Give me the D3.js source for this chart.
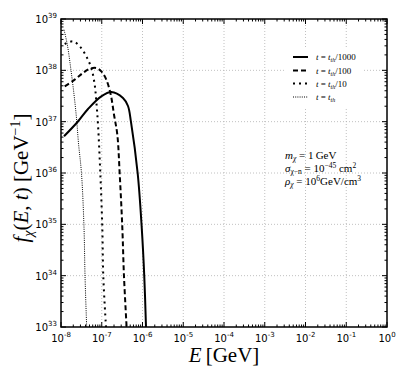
<!DOCTYPE html>
<html lang="en">
<head>
<meta charset="UTF-8">
<script src="https://cdn.jsdelivr.net/npm/d3@7"></script>
<style>
    body { margin: 0; background: #fff; }
    svg { display: block; }
    .tick-label { font-family: "DejaVu Sans", sans-serif; font-size: 10px; fill: #000; }
    .math { font-family: "Liberation Serif", serif; fill: #000; }
</style>
</head>
<body>
<svg width="407" height="386"></svg>
<script>
    const LEFT = 61, RIGHT = 387, TOP = 19, BOTTOM = 327;

    // curves, as log10(E / GeV) and log10(f / GeV^-1)
    const solidLogE = [-7.926, -7.595, -7.337, -7.011, -6.766, -6.479, -6.356, -6.282, -6.118, -6.02, -5.956, -5.914];
    const solidLogF = [36.715, 36.993, 37.247, 37.494, 37.578, 37.461, 37.305, 36.99, 35.99, 34.95, 33.98, 33.0];

    const dashLogE = [-7.909, -7.664, -7.46, -7.296, -7.134, -7.011, -6.888, -6.78, -6.70, -6.618, -6.56, -6.496, -6.454, -6.39];
    const dashLogF = [37.689, 37.818, 37.95, 38.03, 38.045, 37.98, 37.818, 37.53, 37.14, 36.746, 35.99, 34.95, 33.98, 33.0];

    const dotLogE = [-7.909, -7.705, -7.54, -7.379, -7.256, -7.173, -7.134, -7.092, -7.035, -6.987, -6.962, -6.896];
    const dotLogF = [38.513, 38.565, 38.468, 38.273, 38.045, 37.72, 37.397, 36.94, 35.99, 34.95, 33.98, 33.0];

    const fineLogE = [-7.926, -7.845, -7.762, -7.68, -7.62, -7.571, -7.497, -7.436, -7.41, -7.37];
    const fineLogF = [38.79, 38.50, 38.045, 37.525, 37.07, 36.584, 35.99, 34.95, 33.98, 33.0];

    const xDecades = [-8, -7, -6, -5, -4, -3, -2, -1, 0];
    const yDecades = [33, 34, 35, 36, 37, 38, 39];

    const legendLabels = ["1000", "100", "10", ""];

    const svg = d3.select("svg");

    const x = d3.scaleLog().domain([1e-8, 1]).range([LEFT, RIGHT]);
    const y = d3.scaleLog().domain([1e33, 1e39]).range([BOTTOM, TOP]);

    // grid
    const grid = svg.append("g").attr("stroke", "#b0b0b0").attr("stroke-width", 0.8).attr("stroke-dasharray", "1,2");
    xDecades.slice(1, -1).forEach(p => {
        grid.append("line").attr("x1", x(Math.pow(10, p))).attr("x2", x(Math.pow(10, p)))
            .attr("y1", TOP).attr("y2", BOTTOM);
    });
    yDecades.slice(1, -1).forEach(p => {
        grid.append("line").attr("y1", y(Math.pow(10, p))).attr("y2", y(Math.pow(10, p)))
            .attr("x1", LEFT).attr("x2", RIGHT);
    });

    // curves
    const series = [
        {e: solidLogE, f: solidLogF, dash: null, width: 2},
        {e: dashLogE, f: dashLogF, dash: "5,3", width: 2},
        {e: dotLogE, f: dotLogF, dash: "2,4", width: 2},
        {e: fineLogE, f: fineLogF, dash: "1,1.2", width: 1}
    ];

    const line = d3.line()
        .x(d => x(Math.pow(10, d[0])))
        .y(d => y(Math.pow(10, d[1])))
        .curve(d3.curveCatmullRom.alpha(0.5));

    svg.append("clipPath").attr("id", "plot-clip")
        .append("rect").attr("x", LEFT).attr("y", TOP)
        .attr("width", RIGHT - LEFT).attr("height", BOTTOM - TOP);

    series.forEach(s => {
        svg.append("path")
            .attr("clip-path", "url(#plot-clip)")
            .attr("d", line(s.e.map((v, i) => [v, s.f[i]])))
            .attr("fill", "none")
            .attr("stroke", "#000")
            .attr("stroke-width", s.width)
            .attr("stroke-dasharray", s.dash);
    });

    // ticks (inward, all four sides)
    function drawTicks(scale, decades, orient) {
        const major = decades.map(p => Math.pow(10, p));
        const minor = scale.ticks().filter(v => !major.some(m => Math.abs(m - v) / m < 1e-6));
        const g = svg.append("g").attr("stroke", "#000").attr("stroke-width", 1);
        const put = (v, len) => {
            const p = scale(v);
            if (orient === "bottom") g.append("line").attr("x1", p).attr("x2", p).attr("y1", BOTTOM).attr("y2", BOTTOM - len);
            if (orient === "top") g.append("line").attr("x1", p).attr("x2", p).attr("y1", TOP).attr("y2", TOP + len);
            if (orient === "left") g.append("line").attr("y1", p).attr("y2", p).attr("x1", LEFT).attr("x2", LEFT + len);
            if (orient === "right") g.append("line").attr("y1", p).attr("y2", p).attr("x1", RIGHT).attr("x2", RIGHT - len);
        };
        major.forEach(v => put(v, 5));
        minor.forEach(v => put(v, 2.5));
    }
    drawTicks(x, xDecades, "bottom");
    drawTicks(x, xDecades, "top");
    drawTicks(y, yDecades, "left");
    drawTicks(y, yDecades, "right");

    // frame
    svg.append("rect").attr("x", LEFT).attr("y", TOP)
        .attr("width", RIGHT - LEFT).attr("height", BOTTOM - TOP)
        .attr("fill", "none").attr("stroke", "#000").attr("stroke-width", 1.5);

    // tick labels
    xDecades.forEach(p => {
        const t = svg.append("text").attr("class", "tick-label")
            .attr("x", x(Math.pow(10, p))).attr("y", 342).attr("text-anchor", "middle");
        t.append("tspan").text("10");
        t.append("tspan").attr("dy", -5).attr("font-size", "7px").text(String(p));
    });
    yDecades.forEach(p => {
        const t = svg.append("text").attr("class", "tick-label")
            .attr("x", 57).attr("y", y(Math.pow(10, p)) + 4).attr("text-anchor", "end");
        t.append("tspan").text("10");
        t.append("tspan").attr("dy", -5).attr("font-size", "7px").text(String(p));
    });

    // axis labels
    const xl = svg.append("text").attr("class", "math").attr("font-size", "21px")
        .attr("x", (LEFT + RIGHT) / 2).attr("y", 362).attr("text-anchor", "middle");
    xl.append("tspan").attr("font-style", "italic").text("E");
    xl.append("tspan").text("\u2009[GeV]");

    const yl = svg.append("text").attr("class", "math").attr("font-size", "21px")
        .attr("transform", `translate(28, ${(TOP + BOTTOM) / 2 + 5}) rotate(-90)`)
        .attr("text-anchor", "middle");
    yl.append("tspan").attr("font-style", "italic").text("f");
    yl.append("tspan").attr("font-style", "italic").attr("font-size", "14px").attr("dy", 5).text("\u03c7");
    yl.append("tspan").attr("dy", -5).text("(");
    yl.append("tspan").attr("font-style", "italic").text("E");
    yl.append("tspan").text(", ");
    yl.append("tspan").attr("font-style", "italic").text("t");
    yl.append("tspan").text(") [GeV");
    yl.append("tspan").attr("font-size", "14px").attr("dy", -8).text("\u22121");
    yl.append("tspan").attr("dy", 8).text("]");

    // legend
    svg.append("rect").attr("x", 285).attr("y", 47).attr("width", 78).attr("height", 61).attr("fill", "#fff");
    const legendY = [57, 70.5, 83.5, 97];
    series.forEach((s, i) => {
        svg.append("line")
            .attr("x1", 293).attr("x2", 308).attr("y1", legendY[i]).attr("y2", legendY[i])
            .attr("stroke", "#000").attr("stroke-width", s.width).attr("stroke-dasharray", s.dash);
        const t = svg.append("text").attr("class", "math").attr("font-size", "9px")
            .attr("x", 316).attr("y", legendY[i] + 3);
        t.append("tspan").attr("font-style", "italic").text("t");
        t.append("tspan").text(" = ");
        t.append("tspan").attr("font-style", "italic").text("t");
        t.append("tspan").attr("font-size", "6px").attr("font-style", "italic").attr("dy", 2).text("th");
        if (legendLabels[i]) t.append("tspan").attr("dy", -2).text("/" + legendLabels[i]);
    });

    // annotation
    const ann = svg.append("g").attr("class", "math").attr("font-size", "11px");
    const a1 = ann.append("text").attr("x", 285).attr("y", 159);
    a1.append("tspan").attr("font-style", "italic").text("m");
    a1.append("tspan").attr("font-size", "7.5px").attr("dy", 2).attr("font-style", "italic").text("\u03c7");
    a1.append("tspan").attr("dy", -2).text(" = 1\u2009GeV");
    const a2 = ann.append("text").attr("x", 285).attr("y", 172);
    a2.append("tspan").attr("font-style", "italic").text("\u03c3");
    a2.append("tspan").attr("font-size", "7.5px").attr("dy", 2).text("\u03c7\u2212n");
    a2.append("tspan").attr("dy", -2).text(" = 10");
    a2.append("tspan").attr("font-size", "7.5px").attr("dy", -4).text("\u221245");
    a2.append("tspan").attr("dy", 4).text(" cm");
    a2.append("tspan").attr("font-size", "7.5px").attr("dy", -4).text("2");
    const a3 = ann.append("text").attr("x", 285).attr("y", 185);
    a3.append("tspan").attr("font-style", "italic").text("\u03c1");
    a3.append("tspan").attr("font-size", "7.5px").attr("dy", 2).attr("font-style", "italic").text("\u03c7");
    a3.append("tspan").attr("dy", -2).text(" = 10");
    a3.append("tspan").attr("font-size", "7.5px").attr("dy", -4).text("6");
    a3.append("tspan").attr("dy", 4).text("GeV/cm");
    a3.append("tspan").attr("font-size", "7.5px").attr("dy", -4).text("3");
</script>
</body>
</html>
